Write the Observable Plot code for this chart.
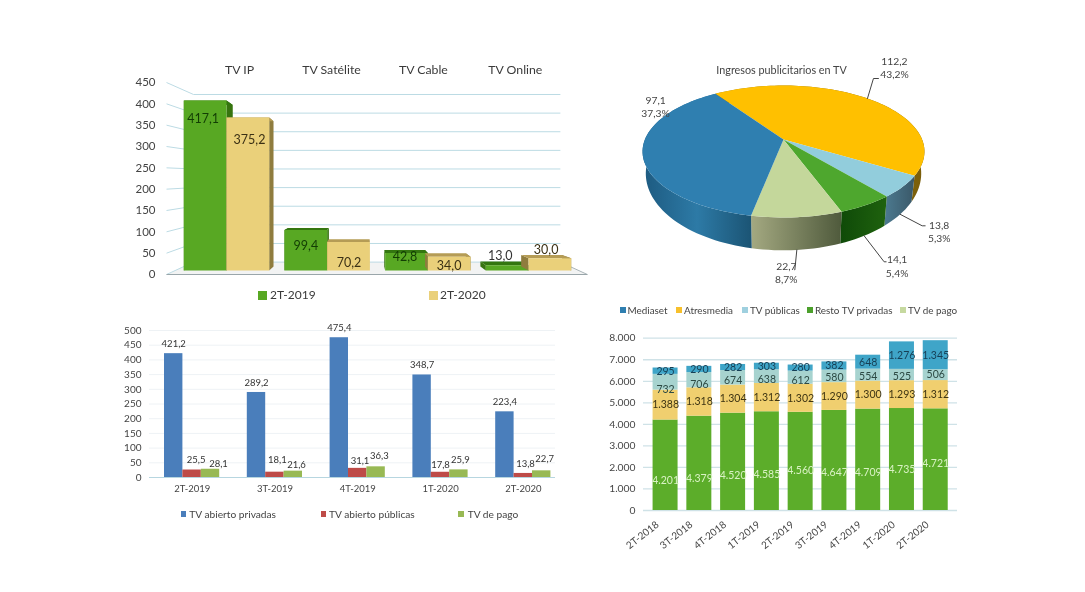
<!DOCTYPE html>
<html><head><meta charset="utf-8">
<script src="https://cdn.jsdelivr.net/npm/d3@7"></script>
<script src="https://cdn.jsdelivr.net/npm/@observablehq/plot@0.6"></script>
<style>
html,body{margin:0;background:#fff;width:1085px;height:592px;overflow:hidden}
#root{position:relative;width:1085px;height:592px;font-family:Lato,sans-serif;color:#444;filter:blur(0.45px)}
.panel{position:absolute}
.lg{position:absolute;white-space:nowrap}
.sq{position:absolute}
</style></head><body><div id="root"></div>
<script>
// ---------- data ----------
const platforms = ["TV IP","TV Satélite","TV Cable","TV Online"];
const platform2019 = [417.1,99.4,42.8,13.0];
const platform2020 = [375.2,70.2,34.0,30.0];

const pieNames = ["Atresmedia","TV públicas","Resto TV privadas","TV de pago","Mediaset"];
const pieValues = [112.2,13.8,14.1,22.7,97.1];
const piePercents = ["43,2%","5,3%","5,4%","8,7%","37,3%"];

const quartersB = ["2T-2019","3T-2019","4T-2019","1T-2020","2T-2020"];
const abiertoPrivadas = [421.2,289.2,475.4,348.7,223.4];
const abiertoPublicas = [25.5,18.1,31.1,17.8,13.8];
const dePago = [28.1,21.6,36.3,25.9,22.7];

const quartersD = ["2T-2018","3T-2018","4T-2018","1T-2019","2T-2019","3T-2019","4T-2019","1T-2020","2T-2020"];
const restoPrivadas = [4201,4379,4520,4585,4560,4647,4709,4735,4721];
const atresmedia = [1388,1318,1304,1312,1302,1290,1300,1293,1312];
const publicas = [732,706,674,638,612,580,554,525,506];
const mediaset = [295,290,282,303,280,382,648,1276,1345];

// ---------- label nudges (px), layout only ----------
const nudgeA2019 = [[-2,18],[0,16],[-1.5,4.4],[-7,-9.7]];
const nudgeA2020 = [[1.7,22],[0.5,21.6],[0,9],[-3.7,-7.8]];
const nudgeBPub = [[4,-6.5],[2.5,-8.7],[2.3,-3],[0,-3.7],[2.2,-5]];
const nudgeBPago = [[8,-1.7],[3.2,-2],[3.2,-6.7],[1.5,-6.3],[3,-8]];
const restoLabelLevel = [1393,1470,1625,1656,1857,1780,1780,1888,2167];
const nudgeDPub = [7,4,3,3.5,2.5,1.5,2,2,-0.5];

// ---------- helpers ----------
const root = document.getElementById("root");
const FONT = "Lato, sans-serif";
const dec = v => v.toFixed(1).replace(".",",");
const thousands = d3.formatLocale({decimal:",",thousands:".",grouping:[3],currency:["",""]}).format(",d");
function place(svg,left,top){const d=document.createElement("div");d.className="panel";d.style.left=left+"px";d.style.top=top+"px";d.appendChild(svg);root.appendChild(d);}
function legend(items,cy,size,sq,color){
  for(const [name,col,sx,tx] of items){
    const s=document.createElement("div");s.className="sq";s.style.cssText=`left:${sx}px;top:${cy-sq/2}px;width:${sq}px;height:${sq}px;background:${col}`;root.appendChild(s);
    const t=document.createElement("div");t.className="lg";t.textContent=name;t.style.cssText=`left:${tx}px;top:${cy-size*0.62}px;font-size:${size}px;line-height:${size*1.24}px;color:${color}`;root.appendChild(t);
  }
}

// ---------- panel A: pseudo 3D bars ----------
(function(){
  const L=120,T=50,W=480,H=260;
  const P=(px,py)=>({x:(px-226)/100.7, y:(274-py)/0.4267});
  const bandY=v=>270-0.4075*v, backY=v=>261.6-0.3725*v;
  const dx=x=>0.045*(365-x), dy=y=>0.05*(190-y);
  const polys=[];
  const poly=(id,color,pts)=>pts.forEach(([a,b])=>polys.push({id,color,...P(a,b)}));
  const bar=(id,xL,xR,v,front,side,top)=>{
    const Y=bandY(v),B=270;
    poly(id+"l",side,[[xL,Y],[xL+dx(xL),Y+dy(Y)],[xL+dx(xL),B+dy(B)],[xL,B]]);
    poly(id+"r",side,[[xR,Y],[xR+dx(xR),Y+dy(Y)],[xR+dx(xR),B+dy(B)],[xR,B]]);
    poly(id+"t",top,[[xL,Y],[xR,Y],[xR+dx(xR),Y+dy(Y)],[xL+dx(xL),Y+dy(Y)]]);
    poly(id+"f",front,[[xL,Y],[xR,Y],[xR,B],[xL,B]]);
  };
  const xc=i=>226+100.7*i;
  platforms.forEach((_,i)=>{
    bar("g"+i,xc(i)-42.7,xc(i),platform2019[i],"#58a823","#37740f","#33760f");
    bar("y"+i,xc(i),xc(i)+42.7,platform2020[i],"#ead07a","#8f7c3e","#b59c55");
  });
  const ticks=d3.range(0,451,50);
  const labels=[];
  platforms.forEach((_,i)=>{
    labels.push({...P(xc(i)-21.3+nudgeA2019[i][0],bandY(platform2019[i])+nudgeA2019[i][1]),t:dec(platform2019[i]),c:i<3?"#123d04":"#333"});
    labels.push({...P(xc(i)+21.3+nudgeA2020[i][0],bandY(platform2020[i])+nudgeA2020[i][1]),t:dec(platform2020[i]),c:"#3b3115"});
  });
  const svg=Plot.plot({width:W,height:H,marginLeft:38,marginRight:0,marginTop:0,marginBottom:0,
    style:{fontFamily:FONT,background:"transparent",color:"#444"},
    x:{domain:[0,3],range:[226-L,528-L],axis:null},
    y:{domain:[0,450],range:[274-T,82-T]},
    color:{type:"identity"},
    marks:[
      Plot.line([[166,274],[587,274],[560,261.6],[193,261.6]].map(p=>P(...p)),{x:"x",y:"y",fill:"#f2f3f3",stroke:"none"}),
      Plot.link(ticks,{x1:()=>P(166,0).x,y1:v=>v,x2:()=>P(193,0).x,y2:v=>P(0,backY(v)).y,stroke:"#bcdbe4",strokeWidth:1}),
      Plot.link(ticks,{x1:()=>P(193,0).x,x2:()=>P(560,0).x,y1:v=>P(0,backY(v)).y,y2:v=>P(0,backY(v)).y,stroke:"#bcdbe4",strokeWidth:1}),
      Plot.link([0],{x1:()=>P(560,0).x,y1:()=>P(0,261.6).y,x2:()=>P(587,0).x,y2:()=>0,stroke:"#a9b4b8",strokeWidth:1}),
      Plot.link([0],{x1:()=>P(166,0).x,y1:()=>0,x2:()=>P(587,0).x,y2:()=>0,stroke:"#9aa6aa",strokeWidth:1.2}),
      Plot.line(polys,{x:"x",y:"y",z:"id",fill:"color",stroke:"none"}),
      Plot.axisY({ticks,tickSize:0,tickPadding:3,fontSize:11.5,label:null,fill:"#444"}),
      Plot.text(labels,{x:"x",y:"y",text:"t",fill:"c",fontSize:12.5}),
      Plot.text(platforms,{x:(d,i)=>0.13+i*0.913,y:()=>(274-70)/0.4267,text:d=>d,fontSize:12.3,fill:"#3a3a3a"})
    ]});
  place(svg,L,T);
  legend([["2T-2019","#58a823",258,270],["2T-2020","#ead07a",429,440]],295,12,9,"#3a3a3a");
})();

// ---------- panel C: 3D pie ----------
(function(){
  const L=600,T=50,W=380,H=255;
  const R=138.6,r=63.8,k=0.182,cx=183,cy=89,start=-34.4,squeeze=0.977;
  const depth=y=>20+10.5*y;
  const total=d3.sum(pieValues);
  const rim=a=>{const t=a*Math.PI/180,x=Math.sin(t),y=-Math.cos(t),w=1-k*y;return [x/w,y/w];};
  const tops=["#ffc000","#92cddc","#4ea72e","#c4d79b","#2f7fb0"];
  const walls=[["#a8810f","#7a5e0a"],["#4c7a90","#3a5868"],["#0f4a08","#1f620e"],["#a4a981","#4f5a3c"],["#1d5a80","#2d7aa6","#1b5474"]];
  let a=start;
  const arcs=pieValues.map(v=>{const a0=a;a+=v/total*360;return [a0,a];});
  const wallPts=[],topPts=[];
  arcs.forEach(([a0,a1],i)=>{
    const n=Math.ceil((a1-a0)/2),pts=d3.range(n+1).map(j=>rim(a0+(a1-a0)*j/n));
    pts.forEach(([x,y])=>wallPts.push({id:i,x,y,c:`url(#w${i})`}));
    pts.slice().reverse().forEach(([x,y])=>wallPts.push({id:i,x:x*squeeze,y:y+depth(y)/r,c:`url(#w${i})`}));
    topPts.push({id:i,x:0,y:0,c:tops[i]});
    pts.forEach(([x,y])=>topPts.push({id:i,x,y,c:tops[i]}));
  });
  const mids=arcs.map(([a0,a1])=>rim((a0+a1)/2));
  const front=[false,true,true,true,false];
  const anchor=i=>({x:mids[i][0]*(front[i]?squeeze:1),y:mids[i][1]+(front[i]?depth(mids[i][1])/r:0)});
  const off=(i,dxp,dyp)=>({x:anchor(i).x+dxp/R,y:anchor(i).y+dyp/r});
  const leaderShape=[[[6,-20],[11,-20]],[[22,11.5],[25,11.5]],[[20,26],[22,26]],[[-2,20],[-2,20]]];
  const labelAt=[[27,-31],[39,17],[33,30],[-10.5,22.5],[13,-46.5]];
  const leaders=[];
  leaderShape.forEach((s,i)=>{leaders.push({id:i,...anchor(i)});s.forEach(p=>leaders.push({id:i,...off(i,p[0],p[1])}));});
  const texts=pieValues.map((v,i)=>({...off(i,labelAt[i][0],labelAt[i][1]),t:dec(v)+"\n"+piePercents[i]}));
  const defs=()=>{
    const ns="http://www.w3.org/2000/svg",d=document.createElementNS(ns,"defs");
    walls.forEach((cols,i)=>{const g=document.createElementNS(ns,"linearGradient");g.setAttribute("id","w"+i);
      cols.forEach((c,j)=>{const s=document.createElementNS(ns,"stop");s.setAttribute("offset",j/(cols.length-1));s.setAttribute("stop-color",c);g.appendChild(s);});d.appendChild(g);});
    return d;
  };
  const svg=Plot.plot({width:W,height:H,margin:0,
    style:{fontFamily:FONT,background:"transparent",color:"#444"},
    x:{domain:[-1,1],range:[cx-R,cx+R],axis:null},
    y:{domain:[-1,1],range:[cy-r,cy+r],axis:null},
    color:{type:"identity"},
    marks:[
      defs,
      Plot.line(wallPts,{x:"x",y:"y",z:"id",fill:"c",stroke:"none"}),
      Plot.line(topPts,{x:"x",y:"y",z:"id",fill:"c",stroke:"none"}),
      Plot.line(leaders,{x:"x",y:"y",z:"id",stroke:"#444",strokeWidth:1}),
      Plot.text(texts,{x:"x",y:"y",text:"t",fontSize:10.3,lineHeight:1.28,fill:"#444"}),
      Plot.text(["Ingresos publicitarios en TV"],{x:()=>(781-L-cx)/R,y:()=>(70-T-cy)/r,text:d=>d,fontSize:10.8,fill:"#444"})
    ]});
  place(svg,L,T);
  const nm=["Mediaset","Atresmedia","TV públicas","Resto TV privadas","TV de pago"];
  const col=["#2f7fb0","#f7c02c","#9fd0df","#4ca02c","#c6d9a0"];
  const sx=[620,676,742,807,900],tx=[627.5,684,750,815,908];
  legend(nm.map((n,i)=>[n,col[i],sx[i],tx[i]]),310,9.9,5.5,"#444");
})();

// ---------- panel B: clustered bars ----------
(function(){
  const L=120,T=320,W=460,H=210,band=82.8,bw=18.4,pad=13.7;
  const cols=["#4a7ebb","#be4b48","#98b954"];
  const rows=arr=>quartersB.map((q,i)=>({q,v:arr[i],i}));
  const ticks=d3.range(0,501,50);
  const bars=(arr,s)=>Plot.barY(rows(arr),{x:"q",y:"v",fill:cols[s],insetLeft:pad+bw*s,insetRight:band-pad-bw*(s+1)});
  const cen=s=>pad+bw*(s+.5)-band/2;
  const fs=9.5;
  const svg=Plot.plot({width:W,height:H,marginLeft:29,marginRight:25,marginTop:0,marginBottom:53,
    style:{fontFamily:FONT,background:"transparent",color:"#444"},
    x:{domain:quartersB,range:[30.3,444.3],padding:0,round:false,axis:null},
    y:{domain:[0,500],range:[157,10]},
    marks:[
      Plot.ruleY(ticks.slice(1),{stroke:"#eef2f5",strokeWidth:1}),
      bars(abiertoPrivadas,0),bars(abiertoPublicas,1),bars(dePago,2),
      Plot.ruleY([0],{stroke:"#b7d6e0",strokeWidth:1}),
      Plot.axisY({ticks,tickSize:0,tickPadding:8,fontSize:10,label:null,fill:"#444"}),
      Plot.axisX({tickSize:0,tickPadding:8,fontSize:fs,label:null,fill:"#444",anchor:"bottom"}),
      Plot.text(rows(abiertoPrivadas),{x:"q",y:"v",text:d=>dec(d.v),dx:cen(0),dy:-9.7,fontSize:fs,fill:"#333"}),
      ...rows(abiertoPublicas).map(d=>Plot.text([d],{x:"q",y:"v",text:d=>dec(d.v),dx:cen(1)+nudgeBPub[d.i][0],dy:nudgeBPub[d.i][1]-4,fontSize:fs,fill:"#333"})),
      ...rows(dePago).map(d=>Plot.text([d],{x:"q",y:"v",text:d=>dec(d.v),dx:cen(2)+nudgeBPago[d.i][0],dy:nudgeBPago[d.i][1]-4,fontSize:fs,fill:"#333"}))
    ]});
  place(svg,L,T);
  legend([["TV abierto privadas",cols[0],180.5,189.3],["TV abierto públicas",cols[1],320.5,329],["TV de pago",cols[2],458,467.7]],514,10.2,5.5,"#444");
})();

// ---------- panel D: stacked bars ----------
(function(){
  const L=600,T=300,W=370,H=255;
  const names=["Resto TV privadas","Atresmedia","TV públicas","Mediaset"];
  const colors=["#5cad2a","#f0cf6f","#a7d3cf","#3fa5c8"];
  const series=[restoPrivadas,atresmedia,publicas,mediaset];
  const rows=names.flatMap((n,s)=>quartersD.map((q,i)=>({q,i,s:n,v:series[s][i]})));
  const ticks=d3.range(0,8001,1000);
  const below=(s,i)=>d3.sum(series.slice(0,s),a=>a[i]);
  const pxUnit=8000/172.3;
  const text=(s,level,fill,fs)=>Plot.text(quartersD.map((q,i)=>({q,i})),{x:"q",y:d=>level(d.i),text:d=>thousands(series[s][d.i]),fill,fontSize:fs});
  const svg=Plot.plot({width:W,height:H,marginLeft:43,marginRight:13,marginTop:0,marginBottom:45,
    style:{fontFamily:FONT,background:"transparent",color:"#444"},
    x:{domain:quartersD,range:[43.8,356.5],padding:0.26,round:false,axis:null},
    y:{domain:[0,8000],range:[210,37.7]},
    color:{domain:names,range:colors},
    marks:[
      Plot.ruleY(ticks,{stroke:"#cfe2e7",strokeWidth:1.3}),
      Plot.barY(rows,{x:"q",y:"v",fill:"s",order:names}),
      Plot.axisY({ticks,tickFormat:thousands,tickSize:0,tickPadding:8,fontSize:10.3,label:null,fill:"#444"}),
      Plot.axisX({tickSize:0,tickPadding:6,tickRotate:-38,fontSize:10,label:null,fill:"#444",anchor:"bottom",dx:-8,dy:7}),
      text(0,i=>restoLabelLevel[i],"#d9f2c4",10.5),
      text(1,i=>below(1,i)+atresmedia[i]/2,"#3d3413",10.5),
      text(2,i=>below(2,i)+publicas[i]/2-nudgeDPub[i]*pxUnit,"#2d4a44",10.5),
      text(3,i=>below(3,i)+mediaset[i]/2,"#163f55",10.5)
    ]});
  place(svg,L,T);
})();
</script></body></html>
